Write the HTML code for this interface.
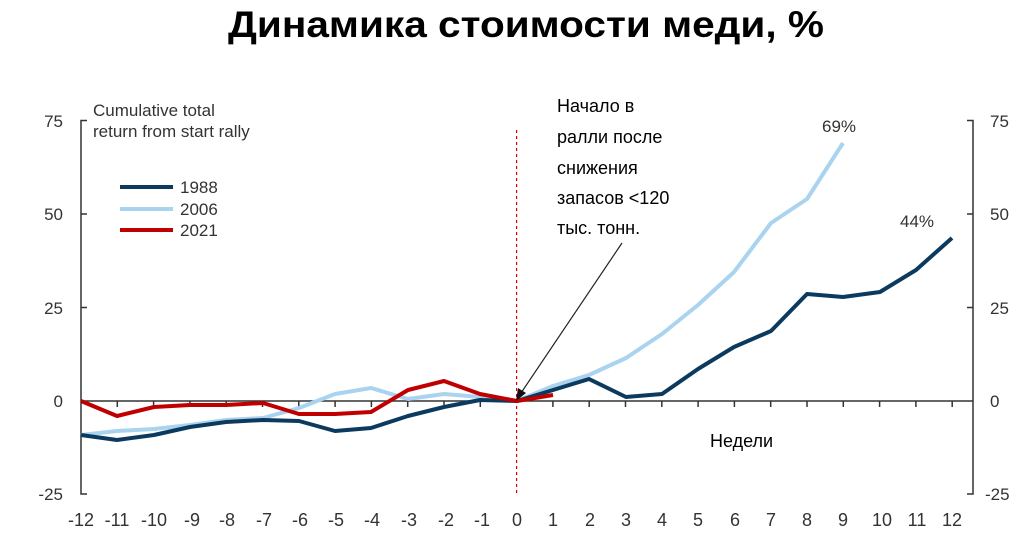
<!DOCTYPE html>
<html><head><meta charset="utf-8"><style>
body{margin:0;background:#fff;width:1034px;height:536px;overflow:hidden}
</style></head><body>
<svg width="1034" height="536" viewBox="0 0 1034 536" xmlns="http://www.w3.org/2000/svg">
<text x="228" y="37" textLength="596" lengthAdjust="spacingAndGlyphs" font-family="'Liberation Sans',sans-serif" font-weight="bold" font-size="37" fill="#000">Динамика стоимости меди, %</text>
<g stroke="#333" stroke-width="1.5" fill="none">
<path d="M87 120.5H81V494H87"/>
<path d="M81 214H87M81 307.5H87"/>
<path d="M967 120.5H973V494H967M967 214H973M967 307.5H973"/>
<path d="M81 401H973"/>
<path d="M117.3 401v6M153.6 401v6M189.9 401v6M226.2 401v6M262.5 401v6M298.8 401v6M335.1 401v6M371.4 401v6M407.7 401v6M444 401v6M480.3 401v6M552.9 401v6M589.2 401v6M625.5 401v6M661.8 401v6M698.1 401v6M734.4 401v6M770.7 401v6M807 401v6M843.3 401v6M879.6 401v6M915.9 401v6M952.2 401v6"/>
</g>
<g font-family="'Liberation Sans',sans-serif" font-size="17" fill="#333">
<text x="63" y="127" text-anchor="end">75</text><text x="63" y="220" text-anchor="end">50</text><text x="63" y="314" text-anchor="end">25</text><text x="63" y="407" text-anchor="end">0</text><text x="63" y="500" text-anchor="end">-25</text>
<text x="990" y="127">75</text><text x="990" y="220">50</text><text x="990" y="314">25</text><text x="990" y="407">0</text><text x="985" y="500">-25</text>
<g text-anchor="middle" font-size="18"><text x="81" y="526">-12</text><text x="117" y="526">-11</text><text x="154" y="526">-10</text><text x="192" y="526">-9</text><text x="227" y="526">-8</text><text x="264" y="526">-7</text><text x="300" y="526">-6</text><text x="336" y="526">-5</text><text x="372" y="526">-4</text><text x="409" y="526">-3</text><text x="446" y="526">-2</text><text x="482" y="526">-1</text><text x="517" y="526">0</text><text x="553" y="526">1</text><text x="590" y="526">2</text><text x="626" y="526">3</text><text x="662" y="526">4</text><text x="698" y="526">5</text><text x="735" y="526">6</text><text x="771" y="526">7</text><text x="807" y="526">8</text><text x="843" y="526">9</text><text x="882" y="526">10</text><text x="917" y="526">11</text><text x="952" y="526">12</text></g>
<text x="93" y="116">Cumulative total</text><text x="93" y="137">return from start rally</text>
<text x="180" y="193">1988</text><text x="180" y="215">2006</text><text x="180" y="236">2021</text>
<text x="822" y="132">69%</text><text x="900" y="227">44%</text>
</g>
<g stroke-width="4" fill="none" stroke-linejoin="round">
<path d="M120 187H173" stroke="#0b3a5e"/><path d="M120 209H173" stroke="#a9d3ef"/><path d="M120 230H173" stroke="#c00000"/>
</g>
<line x1="516.6" y1="130" x2="516.6" y2="494" stroke="#d00" stroke-width="1.2" stroke-dasharray="3,3"/>
<g fill="none" stroke-width="4" stroke-linejoin="round">
<polyline stroke="#a9d3ef" points="81,435 117,431 154,429 190,425 226,420 263,418 299,408 335,394 371,388 408,399 444,394 480,397 517,401 553,386 589,375 626,358 662,334 698,305 734,272 771,223 807,199 843,143"/>
<polyline stroke="#0b3a5e" points="81,435 117,440 154,435 190,427 226,422 263,420 299,421 335,431 371,428 408,416 444,407 480,400 517,401 553,390 589,379 626,397 662,394 698,369 734,347 771,331 807,294 843,297 880,292 916,270 952,238"/>
<polyline stroke="#c00000" points="81,401 117,416 154,407 190,405 226,405 263,403 299,414 335,414 371,412 408,390 444,381 480,394 517,401 553,395"/>
</g>
<line x1="622" y1="243" x2="521" y2="393" stroke="#222" stroke-width="1.2"/>
<polygon points="516,401 518,388 526,393" fill="#111"/>
<g font-family="'Liberation Sans','DejaVu Sans',sans-serif" font-size="18" fill="#000">
<text x="557" y="112">Начало в</text><text x="557" y="143">ралли после</text><text x="557" y="174">снижения</text><text x="557" y="204">запасов &lt;120</text><text x="557" y="234">тыс. тонн.</text>
<text x="710" y="447">Недели</text>
</g>
</svg>
</body></html>
